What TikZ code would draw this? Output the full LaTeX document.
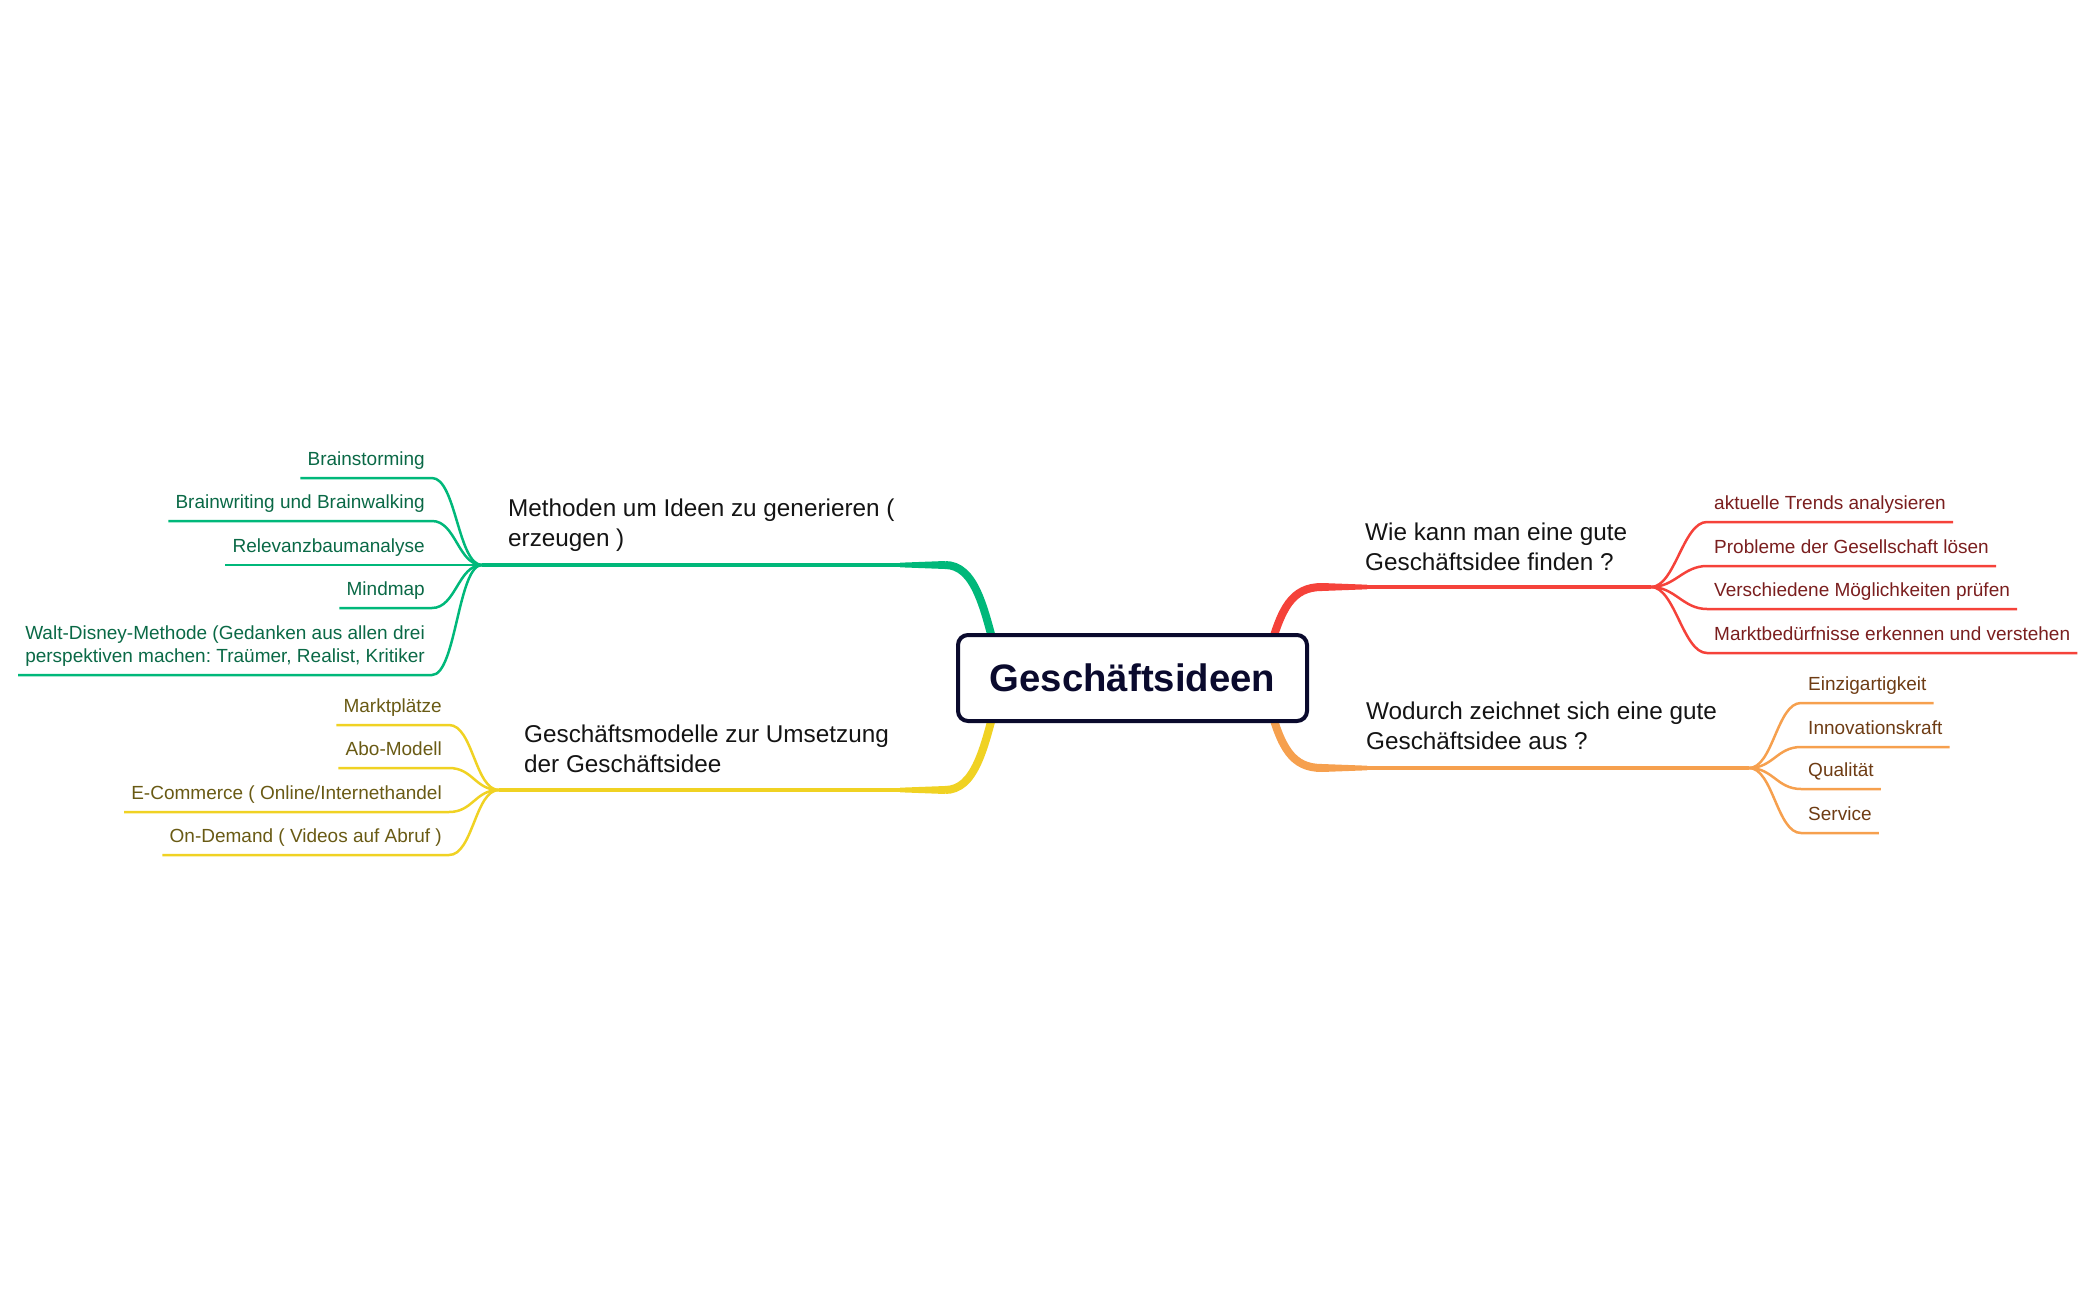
\documentclass[tikz,border=0pt]{standalone}
\usepackage{fontspec}
\setmainfont{Liberation Sans}
\usetikzlibrary{backgrounds}
\frenchspacing

\definecolor{gruen}{RGB}{0,184,122}
\definecolor{gruentext}{RGB}{10,105,70}
\definecolor{gelb}{RGB}{240,210,35}
\definecolor{gelbtext}{RGB}{105,90,20}
\definecolor{rot}{RGB}{245,66,58}
\definecolor{rottext}{RGB}{122,30,30}
\definecolor{orange}{RGB}{246,160,78}
\definecolor{orangetext}{RGB}{110,60,20}
\definecolor{labelgrau}{RGB}{20,20,20}
\definecolor{navy}{RGB}{10,10,45}

\tikzset{
  item/.style={inner xsep=7pt, inner ysep=7pt, text height=14pt, text depth=5pt,
    font=\fontsize{19}{23}\selectfont},
  itemtwo/.style={inner xsep=7pt, inner ysep=8pt, align=left,
    font=\fontsize{19}{23}\selectfont},
  branchlabel/.style={inner sep=0pt, align=left, text=labelgrau,
    font=\fontsize{24.3}{30}\selectfont},
  ast/.style={line width=2.5pt},
  stamm/.style={line width=8pt},
  main/.style={line width=4.5pt},
}

\begin{document}
\begin{tikzpicture}[x=1pt,y=-1pt]
    \useasboundingbox (0,0) rectangle (2097,1300);

    % root
    \node[draw=navy, line width=4pt, rounded corners=10pt, fill=white,
      minimum width=349pt, minimum height=86pt, text=navy,
      font=\bfseries\fontsize{38.3}{46}\selectfont] (idee) at (1132.5,678) {Geschäftsideen};

    % junctions
    \coordinate (jm) at (482,565);
    \coordinate (jg) at (499,790);
    \coordinate (jf) at (1651,587);
    \coordinate (jw) at (1749,768);
    \coordinate (sm) at (945,565);
    \coordinate (sg) at (945,790);
    \coordinate (sf) at (1322,587);
    \coordinate (sw) at (1322,768);

    % branch labels
    \node[branchlabel, anchor=south west] (methoden) at (508,552)
      {Methoden um Ideen zu generieren (\\erzeugen )};
    \node[branchlabel, anchor=south west] (modelle) at (524,773)
      {Geschäftsmodelle zur Umsetzung\\der Geschäftsidee};
    \node[branchlabel, anchor=south west] (finden) at (1365,571)
      {Wie kann man eine gute\\Geschäftsidee finden ?};
    \node[branchlabel, anchor=south west] (merkmale) at (1366,750)
      {Wodurch zeichnet sich eine gute\\Geschäftsidee aus ?};

    \begin{scope}[on background layer]
      \draw[stamm, gruen] ([xshift=40pt,yshift=-20pt]idee.north west) .. controls +(-12,-45) and +(30,0) .. (sm);
      \fill[gruen] (sm) ++(0,-4) -- ++(-45,1.7) -- ++(0,4.6) -- ++(45,1.7) -- cycle;
      \draw[main, gruen] (sm) -- (jm);
      \draw[stamm, gelb] ([xshift=40pt,yshift=20pt]idee.south west) .. controls +(-12,45) and +(30,0) .. (sg);
      \fill[gelb] (sg) ++(0,-4) -- ++(-45,1.7) -- ++(0,4.6) -- ++(45,1.7) -- cycle;
      \draw[main, gelb] (sg) -- (jg);
      \draw[stamm, rot] ([xshift=-40pt,yshift=-20pt]idee.north east) .. controls +(12,-45) and +(-30,0) .. (sf);
      \fill[rot] (sf) ++(0,-4) -- ++(45,1.7) -- ++(0,4.6) -- ++(-45,1.7) -- cycle;
      \draw[main, rot] (sf) -- (jf);
      \draw[stamm, orange] ([xshift=-40pt,yshift=20pt]idee.south east) .. controls +(12,45) and +(-30,0) .. (sw);
      \fill[orange] (sw) ++(0,-4) -- ++(45,1.7) -- ++(0,4.6) -- ++(-45,1.7) -- cycle;
      \draw[main, orange] (sw) -- (jw);
    \end{scope}

    % Methoden
    \node[item, text=gruentext, anchor=south east] (m1) at (432,478) {Brainstorming};
    \node[item, text=gruentext, anchor=south east] (m2) at (432,521) {Brainwriting und Brainwalking};
    \node[item, text=gruentext, anchor=south east] (m3) at (432,565) {Relevanzbaumanalyse};
    \node[item, text=gruentext, anchor=south east] (m4) at (432,608) {Mindmap};
    \node[itemtwo, text=gruentext, anchor=south east] (m5) at (432,675)
      {Walt-Disney-Methode (Gedanken aus allen drei\\perspektiven machen: Traümer, Realist, Kritiker};
    \draw[ast, gruen] (jm) .. controls +(-24,0) and +(24,0) .. (m1.south east) -- (m1.south west);
    \draw[ast, gruen] (jm) .. controls +(-24,0) and +(24,0) .. (m2.south east) -- (m2.south west);
    \draw[ast, gruen] (jm) -- (m3.south west);
    \draw[ast, gruen] (jm) .. controls +(-24,0) and +(24,0) .. (m4.south east) -- (m4.south west);
    \draw[ast, gruen] (jm) .. controls +(-24,0) and +(24,0) .. (m5.south east) -- (m5.south west);

    % Geschaeftsmodelle
    \node[item, text=gelbtext, anchor=south east] (g1) at (449,725) {Marktplätze};
    \node[item, text=gelbtext, anchor=south east] (g2) at (449,768) {Abo-Modell};
    \node[item, text=gelbtext, anchor=south east] (g3) at (449,812) {E-Commerce ( Online/Internethandel};
    \node[item, text=gelbtext, anchor=south east] (g4) at (449,855) {On-Demand ( Videos auf Abruf )};
    \draw[ast, gelb] (jg) .. controls +(-24,0) and +(24,0) .. (g1.south east) -- (g1.south west);
    \draw[ast, gelb] (jg) .. controls +(-24,0) and +(24,0) .. (g2.south east) -- (g2.south west);
    \draw[ast, gelb] (jg) .. controls +(-24,0) and +(24,0) .. (g3.south east) -- (g3.south west);
    \draw[ast, gelb] (jg) .. controls +(-24,0) and +(24,0) .. (g4.south east) -- (g4.south west);

    % finden
    \node[item, text=rottext, anchor=south west] (f1) at (1707,522) {aktuelle Trends analysieren};
    \node[item, text=rottext, anchor=south west] (f2) at (1707,566) {Probleme der Gesellschaft lösen};
    \node[item, text=rottext, anchor=south west] (f3) at (1707,609) {Verschiedene Möglichkeiten prüfen};
    \node[item, text=rottext, anchor=south west] (f4) at (1707,653) {Marktbedürfnisse erkennen und verstehen};
    \draw[ast, rot] (jf) .. controls +(24,0) and +(-24,0) .. (f1.south west) -- (f1.south east);
    \draw[ast, rot] (jf) .. controls +(24,0) and +(-24,0) .. (f2.south west) -- (f2.south east);
    \draw[ast, rot] (jf) .. controls +(24,0) and +(-24,0) .. (f3.south west) -- (f3.south east);
    \draw[ast, rot] (jf) .. controls +(24,0) and +(-24,0) .. (f4.south west) -- (f4.south east);

    % Merkmale
    \node[item, text=orangetext, anchor=south west] (w1) at (1801,703) {Einzigartigkeit};
    \node[item, text=orangetext, anchor=south west] (w2) at (1801,747) {Innovationskraft};
    \node[item, text=orangetext, anchor=south west] (w3) at (1801,789) {Qualität};
    \node[item, text=orangetext, anchor=south west] (w4) at (1801,833) {Service};
    \draw[ast, orange] (jw) .. controls +(24,0) and +(-24,0) .. (w1.south west) -- (w1.south east);
    \draw[ast, orange] (jw) .. controls +(24,0) and +(-24,0) .. (w2.south west) -- (w2.south east);
    \draw[ast, orange] (jw) .. controls +(24,0) and +(-24,0) .. (w3.south west) -- (w3.south east);
    \draw[ast, orange] (jw) .. controls +(24,0) and +(-24,0) .. (w4.south west) -- (w4.south east);
\end{tikzpicture}
\end{document}
